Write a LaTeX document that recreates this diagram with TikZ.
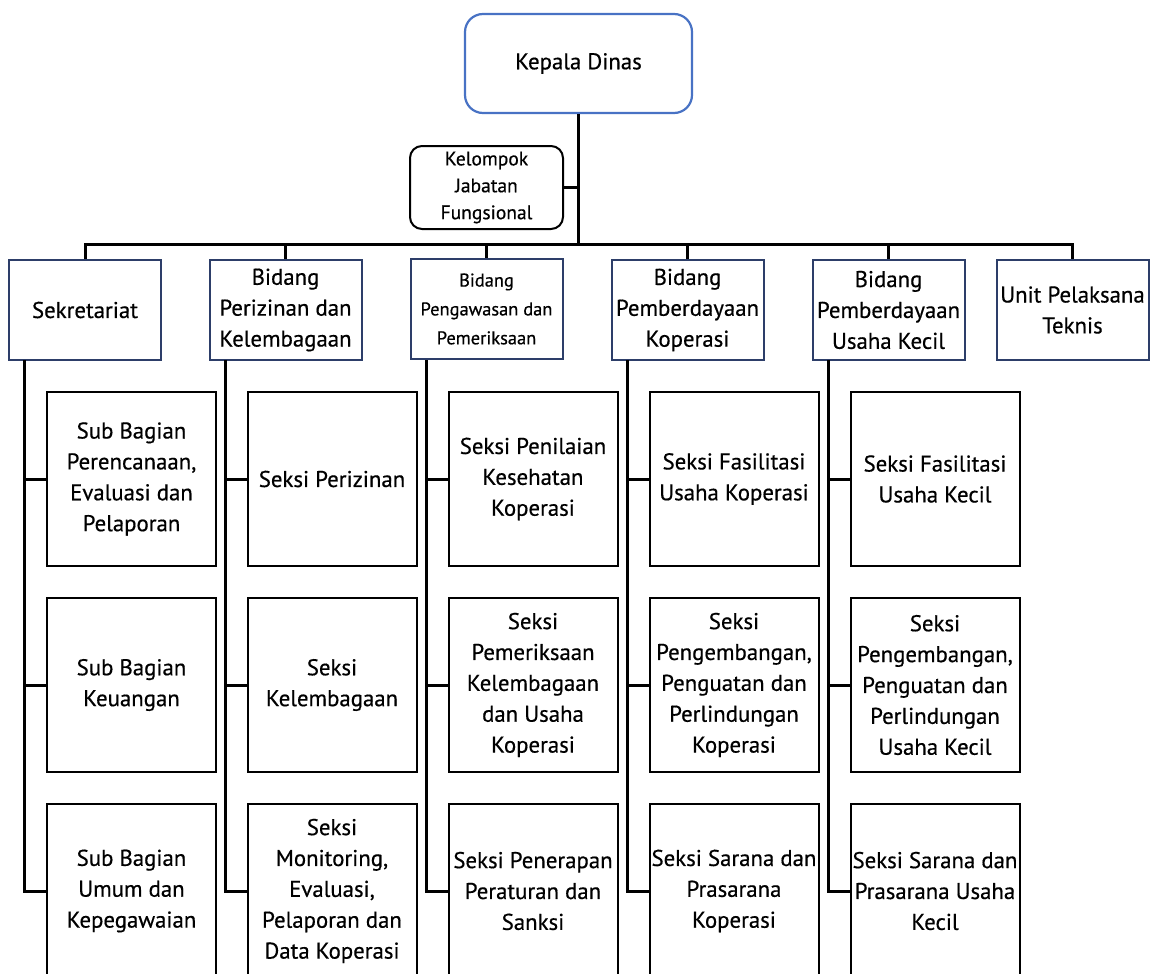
\documentclass[tikz,border=0pt]{standalone}
\usepackage{fontspec}
\setmainfont[FakeBold=0.5]{PT Sans}
\definecolor{topblue}{RGB}{72,114,196}
\definecolor{navy}{RGB}{45,62,105}
\begin{document}
\begin{tikzpicture}[x=1bp,y=-1bp,
  base/.style={inner sep=0pt, align=center, font=\fontsize{22.9}{31}\selectfont},
  topbox/.style={base, draw=topblue, line width=2.2bp, rounded corners=18bp, minimum width=227bp, minimum height=99bp},
  kelbox/.style={base, draw=black, line width=2bp, rounded corners=12bp, minimum width=153bp, minimum height=83bp, font=\fontsize{19.6}{27}\selectfont},
  lvbox/.style={base, draw=navy, line width=2bp, minimum width=152bp, minimum height=100bp, fill=white},
  childbox/.style={base, draw=black, line width=2bp, minimum width=169bp, minimum height=174bp, fill=white},
  link/.style={draw=black, line width=3bp}]
\clip (0,0) rectangle (1156,974);
\fill[white] (0,0) rectangle (1156,974);

\node[topbox] (kd) at (578.5,63.5) {Kepala Dinas};
\node[kelbox] (kjf) at (486.5,187.5) {Kelompok\\Jabatan\\Fungsional};

\node[lvbox] (s1) at (85,310) {Sekretariat};
\node[lvbox] (s2) at (285.5,310) {Bidang\\Perizinan dan\\Kelembagaan};
\node[lvbox, font=\fontsize{18.5}{29}\selectfont] (s3) at (486.5,309) {Bidang\\Pengawasan dan\\Pemeriksaan};
\node[lvbox] (s4) at (687.5,310) {Bidang\\Pemberdayaan\\Koperasi};
\node[lvbox] (s5) at (888.5,310) {Bidang\\Pemberdayaan\\Usaha Kecil};
\node[lvbox] (s6) at (1072.5,310) {Unit Pelaksana\\Teknis};

\coordinate (bus) at (578,244);
\draw[link] (kd.south) -- (kd.south |- bus);
\draw[link] (kjf.east) -- (kjf.east -| kd.south);
\draw[link] (s1.north) -- (s1.north |- bus) -- (s6.north |- bus) -- (s6.north);
\foreach \n in {s2,s3,s4,s5} \draw[link] (\n.north) -- (\n.north |- bus);

% children
\node[childbox] (a1) at (131.5,479) {Sub Bagian\\Perencanaan,\\Evaluasi dan\\Pelaporan};
\node[childbox] (a2) at (131.5,685) {Sub Bagian\\Keuangan};
\node[childbox] (a3) at (131.5,891) {Sub Bagian\\Umum dan\\Kepegawaian};

\node[childbox] (b1) at (332,479) {Seksi Perizinan};
\node[childbox] (b2) at (332,685) {Seksi\\Kelembagaan};
\node[childbox] (b3) at (332,891) {Seksi\\Monitoring,\\Evaluasi,\\Pelaporan dan\\Data Koperasi};

\node[childbox] (c1) at (533,479) {Seksi Penilaian\\Kesehatan\\Koperasi};
\node[childbox] (c2) at (533,685) {Seksi\\Pemeriksaan\\Kelembagaan\\dan Usaha\\Koperasi};
\node[childbox] (c3) at (533,891) {Seksi Penerapan\\Peraturan dan\\Sanksi};

\node[childbox] (d1) at (734,479) {Seksi Fasilitasi\\Usaha Koperasi};
\node[childbox] (d2) at (734,685) {Seksi\\Pengembangan,\\Penguatan dan\\Perlindungan\\Koperasi};
\node[childbox] (d3) at (734,891) {Seksi Sarana dan\\Prasarana\\Koperasi};

\node[childbox] (e1) at (935,479) {Seksi Fasilitasi\\Usaha Kecil};
\node[childbox] (e2) at (935,685) {Seksi\\Pengembangan,\\Penguatan dan\\Perlindungan\\Usaha Kecil};
\node[childbox] (e3) at (935,891) {Seksi Sarana dan\\Prasarana Usaha\\Kecil};

\foreach \p/\x in {s1/24,s2/225,s3/426,s4/627,s5/828}{
  \coordinate (\p sp) at (\x,360);
}
\foreach \p/\a/\b/\c in {s1/a1/a2/a3,s2/b1/b2/b3,s3/c1/c2/c3,s4/d1/d2/d3,s5/e1/e2/e3}{
  \draw[link] (\p sp) -- (\p sp |- \c.west) -- (\c.west);
  \draw[link] (\p sp |- \a.west) -- (\a.west);
  \draw[link] (\p sp |- \b.west) -- (\b.west);
}
\end{tikzpicture}
\end{document}
